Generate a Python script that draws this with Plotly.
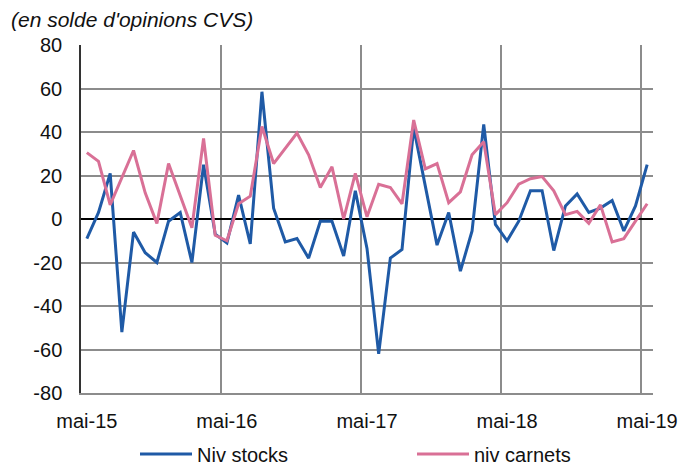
import plotly.graph_objects as go

months = []
mois = ["mai", "juin", "juil", "août", "sept", "oct", "nov", "déc", "janv", "févr", "mars", "avr"]
for k in range(49):
    m = mois[k % 12]
    yr = 15 + (k + 4) // 12
    months.append(f"{m}-{yr}")

niv_stocks = [-9, 3, 21, -52, -6, -15.5, -20, -1, 3, -20, 25, -7,
              -11, 11, -11.5, 58.5, 5, -10.5, -9, -18, -1, -1, -17, 13,
              -13.5, -62, -18, -14, 42, 15, -12, 3, -24, -5.5, 43.5, -2.5,
              -10, -1, 13, 13, -14.5, 6, 11.5, 3, 5, 8.5, -5.5, 6, 25]
niv_carnets = [30.5, 26.5, 6.5, 19, 31.5, 12, -2, 25.5, 10.5, -4, 37, -7.5,
               -10, 7, 10.5, 42.5, 25.5, 32.5, 39.5, 29.5, 14.5, 24, 0, 21,
               1, 16, 14.5, 7, 45.5, 23, 25.5, 7.5, 12.5, 29.5, 35.5, 2,
               7.5, 16, 18.5, 19.5, 13, 2, 3.5, -2, 6.5, -10.5, -9, -1, 7]

tick_idx = [0, 12, 24, 36, 48]
tick_labels = [months[i] for i in tick_idx]
y_ticks = [-80, -60, -40, -20, 0, 20, 40, 60, 80]
y_labels = [str(v) for v in y_ticks]

x = list(range(len(months)))
FONT = "Liberation Sans, Arial, sans-serif"

# page has an 8px body margin: figure is drawn 8px right/down
W, H = 690, 458
L, T, PW, PH = 73, 37, 572, 348

fig = go.Figure()
fig.add_trace(go.Scatter(x=x, y=niv_stocks, mode="lines", name="Niv stocks",
                         line=dict(color="#1F5AA6", width=3)))
fig.add_trace(go.Scatter(x=x, y=niv_carnets, mode="lines", name="niv carnets",
                         line=dict(color="#D97096", width=3)))

fig.update_layout(
    width=W, height=H,
    margin=dict(l=L, r=W - L - PW, t=T, b=H - T - PH, autoexpand=False),
    paper_bgcolor="white", plot_bgcolor="white",
    font=dict(family=FONT, size=20, color="#111"),
    showlegend=True,
    legend=dict(orientation="h", xref="container", yref="container",
                x=127/W, xanchor="left", y=1-446/H, yanchor="middle",
                entrywidth=210, entrywidthmode="pixels", itemwidth=52,
                font=dict(size=20), bgcolor="rgba(0,0,0,0)"),
    annotations=[dict(text="<i>(en solde d'opinions CVS)</i>", xref="paper", yref="paper",
                      x=-(L - 2)/PW, xanchor="left", y=1+(T - 11)/PH, yanchor="middle", showarrow=False,
                      borderpad=0, font=dict(size=21, family=FONT, color="#111"))],
)
fig.update_xaxes(range=[-0.5, 48.5], tickmode="array", tickvals=tick_idx, ticktext=tick_labels,
                 showgrid=False, zeroline=False, showline=True, linecolor="#8c8c8c", linewidth=1.5,
                 ticks="", ticklabelstandoff=9, automargin=False,
                 minor=dict(tick0=-0.5, dtick=12, showgrid=True, gridcolor="#8c8c8c", gridwidth=1.5, ticks=""))
fig.update_yaxes(range=[-80, 80], tickmode="array", tickvals=y_ticks, ticktext=y_labels,
                 showgrid=True, gridcolor="#8c8c8c", gridwidth=1.5,
                 zeroline=True, zerolinecolor="black", zerolinewidth=1.5,
                 showline=True, linecolor="#333", linewidth=1.5, ticks="",
                 ticklabelstandoff=13, automargin=False)

fig.write_html("out.html")
